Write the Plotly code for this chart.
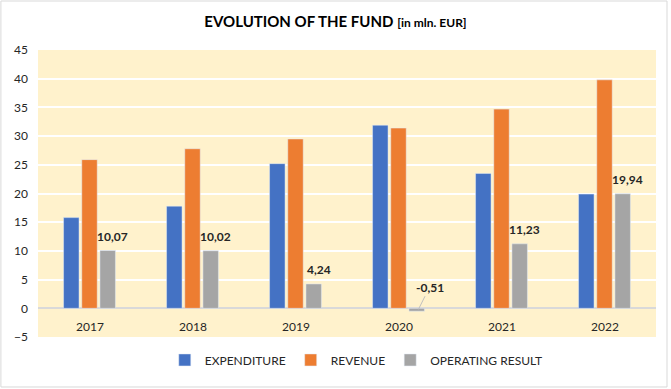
import plotly.graph_objects as go

years = ["2017", "2018", "2019", "2020", "2021", "2022"]
expenditure = [15.8, 17.8, 25.2, 31.9, 23.5, 19.9]
revenue = [25.9, 27.8, 29.5, 31.4, 34.7, 39.8]
operating_result = [10.07, 10.02, 4.24, -0.51, 11.23, 19.94]
y_ticks = list(range(-5, 50, 5))

FONT = "Lato"
TXT = "#262626"

fig = go.Figure()
fig.add_bar(x=years, y=expenditure, name="EXPENDITURE", marker_color="#4472C4")
fig.add_bar(x=years, y=revenue, name="REVENUE", marker_color="#ED7D31")
fig.add_bar(x=years, y=operating_result, name="OPERATING RESULT", marker_color="#A5A5A5")

# data labels for the operating result (x given as category index)
for i, v in enumerate(operating_result):
    label = f"{v:.2f}".replace(".", ",")
    if v >= 0:
        fig.add_annotation(x=i, y=v, text=f"<b>{label}</b>", showarrow=False,
                           xshift=23, yshift=14, font=dict(family=FONT, size=12, color=TXT))
    else:
        fig.add_annotation(x=i, y=v, text=f"<b>{label}</b>", showarrow=True,
                           xshift=19, ax=12, ay=-24, arrowhead=0, arrowwidth=1,
                           arrowcolor="#BFBFBF", standoff=2,
                           font=dict(family=FONT, size=12, color=TXT))

# category labels inside plot area near zero line
for i, yr in enumerate(years):
    fig.add_annotation(x=i, y=-3.1, text=yr, showarrow=False,
                       font=dict(family=FONT, size=12, color=TXT))

# outer border
fig.add_shape(type="rect", xref="paper", yref="paper",
              x0=-0.06, x1=1.0178, y0=-0.1742, y1=1.1707,
              line=dict(color="#D9D9D9", width=1), layer="below")

fig.update_layout(
    width=671, height=389,
    margin=dict(l=38, r=15, t=50, b=52, autoexpand=False),
    paper_bgcolor="white", plot_bgcolor="#FFF2CC",
    barmode="group", bargap=0.47, bargroupgap=0.15,
    title=dict(text="<b>EVOLUTION OF THE FUND</b> <span style='font-size:12px'><b>[in mln. EUR]</b></span>",
               x=0.5, xanchor="center", y=1 - 22 / 389, yanchor="middle",
               font=dict(family=FONT, size=15, color="black")),
    font=dict(family=FONT, size=12, color=TXT),
    legend=dict(orientation="h", x=0.515, xanchor="center", y=-0.08, yanchor="middle",
                font=dict(family=FONT, size=12, color=TXT), itemwidth=30,
                traceorder="normal"),
    xaxis=dict(type="category", range=[-0.5, 5.5], showticklabels=False, showgrid=False,
               zeroline=False, ticks="", automargin=False),
    yaxis=dict(range=[-5, 45], tickvals=y_ticks, showgrid=True, gridcolor="white",
               gridwidth=1.5, zeroline=True, zerolinecolor="#D9D9D9", zerolinewidth=1.5,
               tickfont=dict(family=FONT, size=12, color=TXT), ticks="", ticklen=0,
               ticklabelstandoff=9, automargin=False),
)

fig.write_html("out.html", post_script="document.body.style.margin='0';",
               config={"displayModeBar": False})
